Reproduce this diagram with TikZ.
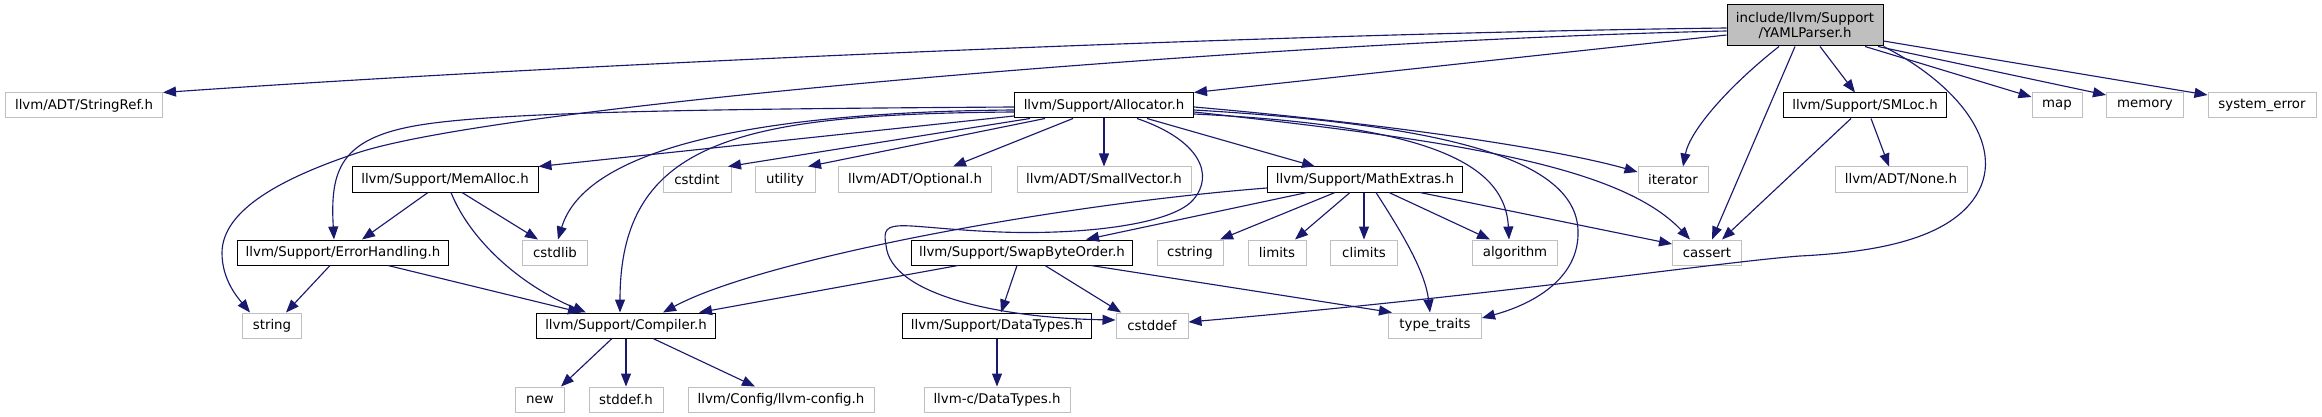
\documentclass[tikz,border=0pt]{standalone}
\usepackage{fontspec}
\setmainfont{DejaVu Sans}
\usetikzlibrary{arrows.meta}
\definecolor{eblue}{HTML}{191970}
\definecolor{gline}{HTML}{BFBFBF}
\definecolor{rootfill}{HTML}{BFBFBF}
\begin{document}
\begin{tikzpicture}[x=0.75pt,y=-0.75pt,
  box/.style={rectangle, inner sep=0pt, minimum height=18.75pt, line width=0.75pt,
    font=\fontsize{10}{11.5}\selectfont, text=black},
  gbox/.style={box, draw=gline},
  bbox/.style={box, draw=black},
  bw/.style={minimum width=#1*0.75pt},
  e/.style={draw=eblue, line width=0.85pt, -{Triangle[length=9.75pt,width=7.5pt]}}
]
\useasboundingbox (0,0) rectangle (2322,417);
\fill[white] (0,0) rectangle (2322,417);

% row 0
\node[bbox, fill=rootfill, bw=156, minimum height=30.75pt, align=center] (YAML) at (1805,25.5) {include/llvm/Support\\/YAMLParser.h};
% row 1
\node[gbox, bw=157] (StringRef) at (84,105.5) {llvm/ADT/StringRef.h};
\node[bbox, bw=179] (Allocator) at (1104,105.5) {llvm/Support/Allocator.h};
\node[bbox, bw=163] (SMLoc) at (1865,105.5) {llvm/Support/SMLoc.h};
\node[gbox, bw=50] (map) at (2057,105.5) {map};
\node[gbox, bw=77] (memory) at (2145,105.5) {memory};
\node[gbox, bw=108] (syserr) at (2262,105.5) {system\_error};
% row 2
\node[bbox, bw=186] (MemAlloc) at (445,179.5) {llvm/Support/MemAlloc.h};
\node[gbox, bw=68] (cstdint) at (697,179.5) {cstdint};
\node[gbox, bw=60] (utility) at (785,179.5) {utility};
\node[gbox, bw=153] (Optional) at (915,179.5) {llvm/ADT/Optional.h};
\node[gbox, bw=174] (SmallVector) at (1104,179.5) {llvm/ADT/SmallVector.h};
\node[bbox, bw=195] (MathExtras) at (1365,179.5) {llvm/Support/MathExtras.h};
\node[gbox, bw=70] (iterator) at (1673,179.5) {iterator};
\node[gbox, bw=132] (None) at (1901,179.5) {llvm/ADT/None.h};
% row 3
\node[bbox, bw=211] (ErrorHandling) at (343,252.5) {llvm/Support/ErrorHandling.h};
\node[gbox, bw=65] (cstdlib) at (555,252.5) {cstdlib};
\node[bbox, bw=221] (SwapByteOrder) at (1022,252.5) {llvm/Support/SwapByteOrder.h};
\node[gbox, bw=66] (cstring) at (1190,252.5) {cstring};
\node[gbox, bw=58] (limits) at (1277,252.5) {limits};
\node[gbox, bw=67] (climits) at (1364,252.5) {climits};
\node[gbox, bw=85] (algorithm) at (1515,252.5) {algorithm};
\node[gbox, bw=69] (cassert) at (1707,252.5) {cassert};
% row 4
\node[gbox, bw=59] (string) at (272,325.5) {string};
\node[bbox, bw=179] (Compiler) at (626,325.5) {llvm/Support/Compiler.h};
\node[bbox, bw=189] (DataTypes) at (997,325.5) {llvm/Support/DataTypes.h};
\node[gbox, bw=72] (cstddef) at (1152,325.5) {cstddef};
\node[gbox, bw=93] (typetraits) at (1435,325.5) {type\_traits};
% row 5
\node[gbox, bw=49] (new) at (540,399.5) {new};
\node[gbox, bw=74] (stddef) at (626,399.5) {stddef.h};
\node[gbox, bw=186] (llvmconfig) at (781,399.5) {llvm/Config/llvm-config.h};
\node[gbox, bw=146] (lcDataTypes) at (997,399.5) {llvm-c/DataTypes.h};

% YAMLParser.h edges
\draw[e] (YAML.west |- 0,28) .. controls (1300,33) and (600,62) .. (StringRef.north east);
\draw[e] (YAML.west |- 0,31) .. controls (1300,40) and (507,103) .. (357,153)
   .. controls (282,178) and (222,210) .. (222,253) .. controls (222,280) and (238,298) .. (string.north -| 250,0);
\draw[e] (YAML.west |- 0,35) -- (Allocator.north east);
\draw[e] (YAML.south -| 1779,0) .. controls (1730,85) and (1690,130) .. (iterator.north -| 1683,0);
\draw[e] (YAML.south -| 1795,0) -- (cassert.north -| 1712,0);
\draw[e] (YAML.south -| 1820,0) -- (SMLoc.north -| 1855,0);
\draw[e] (YAML.south -| 1865,0) -- (map.west |- 0,97);
\draw[e] (YAML.south -| 1878,0) -- (memory.west |- 0,95);
\draw[e] (YAML.east |- 0,41) -- (syserr.west |- 0,95);
\draw[e] (YAML.south east) .. controls (1960,85) and (2010,150) .. (1973,200)
   .. controls (1945,238) and (1880,252) .. (1800,256)
   .. controls (1720,262) and (1500,295) .. (cstddef.east |- 0,322);

% SMLoc.h edges
\draw[e] (SMLoc.south -| 1871,0) -- (None.north -| 1889,0);
\draw[e] (SMLoc.south -| 1851,0) -- (cassert.north -| 1722,0);

% Allocator.h edges
\draw[e] (Allocator.west |- 0,116) -- (MemAlloc.north east);
\draw[e] (Allocator.south -| 1030,0) -- (cstdint.north -| 728,0);
\draw[e] (Allocator.south -| 1045,0) -- (utility.north -| 808,0);
\draw[e] (Allocator.south -| 1073,0) -- (Optional.north -| 953,0);
\draw[e] (Allocator) -- (SmallVector);
\draw[e] (Allocator.south -| 1147,0) -- (MathExtras.north -| 1315,0);
\draw[e] (Allocator.west |- 0,110) .. controls (750,112) and (585,150) .. (cstdlib.north -| 558,0);
\draw[e] (Allocator.west |- 0,112) .. controls (740,114) and (620,140) .. (Compiler.north -| 620,0);
\draw[e] (Allocator.west |- 0,107) .. controls (700,109) and (500,112) .. (420,125)
   .. controls (340,138) and (330,170) .. (ErrorHandling.north -| 334,0);
\draw[e] (Allocator.east |- 0,107) .. controls (1400,125) and (1560,150) .. (iterator.west |- 0,172);
\draw[e] (Allocator.east |- 0,112) .. controls (1450,140) and (1620,165) .. (cassert.north -| 1690,0);
\draw[e] (Allocator.east |- 0,114) .. controls (1420,125) and (1505,160) .. (algorithm.north -| 1509,0);
\draw[e] (Allocator.east |- 0,110) .. controls (1450,125) and (1575,160) .. (1578,230)
   .. controls (1580,280) and (1530,305) .. (typetraits.east |- 0,318);
\draw[e] (Allocator.south -| 1137,0) .. controls (1200,140) and (1215,175) .. (1193,200)
   .. controls (1171,225) and (1080,235) .. (1000,232)
   .. controls (900,228) and (880,215) .. (886,245)
   .. controls (890,295) and (1000,318) .. (cstddef.west |- 0,320);

% MemAlloc.h edges
\draw[e] (MemAlloc.south -| 428,0) -- (ErrorHandling.north -| 362,0);
\draw[e] (MemAlloc.south -| 462,0) -- (cstdlib.north -| 538,0);
\draw[e] (MemAlloc.south -| 451,0) .. controls (470,240) and (520,285) .. (Compiler.north -| 586,0);

% ErrorHandling.h edges
\draw[e] (ErrorHandling.south -| 330,0) -- (string.north -| 286,0);
\draw[e] (ErrorHandling.south -| 388,0) -- (Compiler.north -| 581,0);

% Compiler.h edges
\draw[e] (Compiler.south -| 612,0) -- (new.north -| 561,0);
\draw[e] (Compiler) -- (stddef);
\draw[e] (Compiler.south -| 653,0) -- (llvmconfig.north -| 755,0);

% MathExtras.h edges
\draw[e] (MathExtras.west |- 0,188) .. controls (1050,205) and (760,260) .. (Compiler.north -| 663,0);
\draw[e] (MathExtras.south -| 1307,0) -- (SwapByteOrder.north -| 1086,0);
\draw[e] (MathExtras.south -| 1335,0) -- (cstring.north -| 1220,0);
\draw[e] (MathExtras.south -| 1350,0) -- (limits.north -| 1295,0);
\draw[e] (MathExtras.south -| 1364,0) -- (climits.north -| 1364,0);
\draw[e] (MathExtras.south -| 1376,0) .. controls (1400,230) and (1425,270) .. (typetraits.north -| 1430,0);
\draw[e] (MathExtras.south -| 1389,0) -- (algorithm.north -| 1490,0);
\draw[e] (MathExtras.south -| 1420,0) -- (cassert.west |- 0,244);

% SwapByteOrder.h edges
\draw[e] (SwapByteOrder.south -| 958,0) -- (Compiler.north -| 699,0);
\draw[e] (SwapByteOrder.south -| 1017,0) -- (DataTypes.north -| 1001,0);
\draw[e] (SwapByteOrder.south -| 1045,0) -- (cstddef.north -| 1121,0);
\draw[e] (SwapByteOrder.south -| 1091,0) -- (typetraits.north -| 1392,0);

% DataTypes.h edges
\draw[e] (DataTypes) -- (lcDataTypes);
\end{tikzpicture}
\end{document}
